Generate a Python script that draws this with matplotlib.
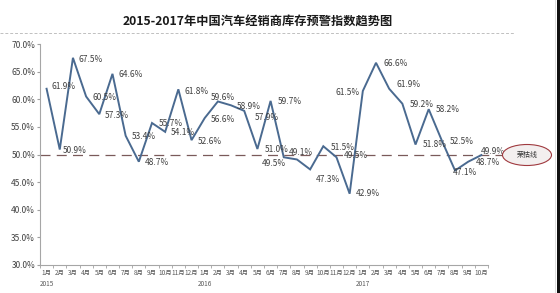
import matplotlib
matplotlib.use("Agg")
import matplotlib.pyplot as plt
from matplotlib.patches import Ellipse, Rectangle
from matplotlib.lines import Line2D

plt.rcParams['font.family'] = ['Noto Sans CJK SC', 'DejaVu Sans']

title = "2015-2017年中国汽车经销商库存预警指数趋势图"
years = ["2015", "2016", "2017"]
months = ["1月", "2月", "3月", "4月", "5月", "6月", "7月", "8月", "9月", "10月", "11月", "12月"]
values_2015 = [61.9, 50.9, 67.5, 60.5, 57.3, 64.6, 53.4, 48.7, 55.7, 54.1, 61.8, 52.6]
values_2016 = [56.6, 59.6, 58.9, 57.9, 51.0, 59.7, 49.5, 49.1, 47.3, 51.5, 49.5, 42.9]
values_2017 = [61.5, 66.6, 61.9, 59.2, 51.8, 58.2, 52.5, 47.1, 48.7, 49.9]
threshold = 50.0
threshold_label = "荣枯线"
y_ticks = [30, 35, 40, 45, 50, 55, 60, 65, 70]

# label offsets (pixels, right / up) for each data label
label_dx = [17, 15, 18, 18, 18, 18, 18, 18, 19, 18, 18, 18,
            18, 5, 18, 23, 19, 19, -10, 4, 18, 19, 19, 18,
            -15, 20, 19, 19, 19, 19, 20, 10, 20, 11]
label_dy = [2, -1, -2, -1, -1, -1, -1, -1, 0, -1, -2, -1,
            -1.5, 4, -1, -7, -0.5, -0.6, -6, 7, -10, -1, 2, 0,
            -1.5, -1, 4, -1, 0, 0, -1, -2, -1, 4]

values = values_2015 + values_2016 + values_2017
labels = []
for yi, (yr, vals) in enumerate(zip(years, [values_2015, values_2016, values_2017])):
    for mi in range(len(vals)):
        labels.append(months[mi] + ("\n" + yr if mi == 0 else ""))
x = list(range(len(values)))

W, H = 560, 293
fig = plt.figure(figsize=(W / 100, H / 100), dpi=100)
fig.patch.set_facecolor('white')
ax = fig.add_axes([40 / W, 1 - 265 / H, (488 - 40) / W, (265 - 44) / H])

line_color = '#4a6a90'
ax.plot(x, values, color=line_color, lw=1.4, solid_joinstyle='miter', zorder=3)

ax.set_xlim(-0.5, len(values) - 0.5)
ax.set_ylim(30, 70)
ax.set_yticks(y_ticks)
ax.set_yticklabels([f"{t:.1f}%" for t in y_ticks], fontsize=6, color='#404040')
ax.set_xticks(x)
ax.set_xticklabels(labels, fontsize=4.6, color='#595959', linespacing=1.5)
ax.set_xticks([i + 0.5 for i in range(-1, len(values))], minor=True)
ax.tick_params(axis='x', which='major', length=0, pad=3)
ax.tick_params(axis='x', which='minor', length=2, color='#a0a0a0')
ax.tick_params(axis='y', length=2, color='#a0a0a0', pad=1.5)
for s in ['top', 'right']:
    ax.spines[s].set_visible(False)
for s in ['left', 'bottom']:
    ax.spines[s].set_color('#a6a6a6')
    ax.spines[s].set_linewidth(0.8)

for xi, v, dx, dy in zip(x, values, label_dx, label_dy):
    ax.annotate(f"{v:.1f}%", (xi, v), xytext=(dx, dy), textcoords='offset pixels',
                ha='center', va='center', fontsize=6, color='#404040', zorder=4)

# threshold dashed line extending to the ellipse
ax.plot([-0.5, 34.65], [threshold, threshold], color='#7a5a5a', lw=0.9,
        dashes=(8, 5), clip_on=False, zorder=2)

# ellipse with label
ell = Ellipse((527 / W, 1 - 155 / H), 49 / W, 21 / H, transform=fig.transFigure,
              facecolor='#f3efef', edgecolor='#a03a3f', lw=0.8)
fig.patches.append(ell)
fig.text(527 / W, 1 - 155 / H, threshold_label, ha='center', va='center',
         fontsize=5, color='#333333')

# title and separator
fig.text(258 / W, 1 - 22.5 / H, title, ha='center', va='center', fontsize=8.8,
         fontweight='bold', color='#1a1a1a')
fig.add_artist(Line2D([0, 514 / W], [1 - 33 / H, 1 - 33 / H], transform=fig.transFigure,
                      color='#c0c0c0', lw=0.7, dashes=(3, 2)))

# right border artefacts
fig.add_artist(Line2D([555 / W, 555 / W], [0, 1], transform=fig.transFigure,
                      color='#d8d8d8', lw=0.6))
fig.patches.append(Rectangle((557 / W, 0), 3 / W, 1, transform=fig.transFigure,
                             facecolor='#111111', edgecolor='none'))

fig.savefig("out.png", dpi=100)
